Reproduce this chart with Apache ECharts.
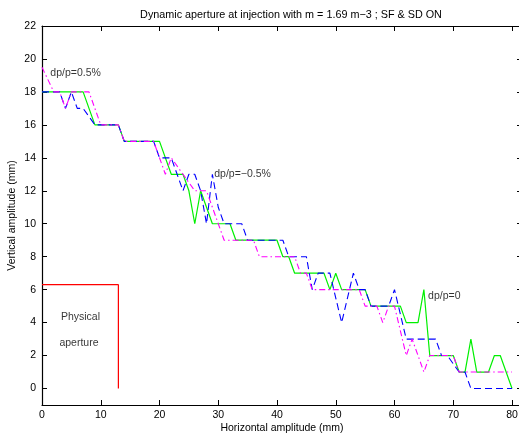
<!DOCTYPE html>
<html>
<head>
<meta charset="utf-8">
<script src="https://cdn.jsdelivr.net/npm/echarts@6/dist/echarts.min.js"></script>
<style>html,body{margin:0;padding:0;background:#fff}#c{width:519px;height:434px}</style>
</head>
<body>
<div id="c"></div>
<script>
// dp/p = 0 (green, solid)
const dpp0 = [[0,18],[7,18],[9,16],[13,16],[14,15],[20,15],[22,13],[24,13],[25,12],[26,10],[27,12],[29,10],[32,10],[33,9],[40,9],[41,8],[42,8],[43,7],[48,7],[49,6],[50,7],[51,6],[55,6],[56,5],[61,5],[62,4],[64,4],[65,6],[66,2],[70,2],[71,1],[72,1],[73,3],[74,1],[76,1],[77,2],[78,2],[80,0]];
// dp/p = -0.5% (blue, dashed)
const dppMinus = [[0,18],[3,18],[4,17],[5,18],[6,17],[7,17],[9,16],[13,16],[14,15],[19,15],[20,14],[22,14],[23,13],[24,12],[25,13],[26,13],[27,12],[28,10],[29,13],[30,11],[31,10],[34,10],[35,9],[41,9],[42,8],[45,8],[46,6],[47,7],[49,7],[51,4],[53,7],[54,6],[55,6],[56,5],[59,5],[60,6],[62,3],[67,3],[68,2],[69,2],[71,1],[72,1],[73,0],[80,0]];
// dp/p = +0.5% (magenta, dash-dot)
const dppPlus = [[0,19.5],[2,18],[3,18],[4,17],[5,18],[8,18],[10,16],[13,16],[14,15],[19,15],[21,13],[22,14],[24,13],[26,12],[28,12],[31,9],[36,9],[37,8],[43,8],[44,7],[45,7],[46,6],[54,6],[55,5],[57,5],[58,4],[59,5],[60,5],[62,2],[63,3],[65,1],[66,2],[70,2],[71,1],[80,1]];
// physical aperture (red)
const apertureX = [0,13,13];
const apertureY = [6.3,6.3,0];
// tick labels
const xTicks = [0,10,20,30,40,50,60,70,80];
const yTicks = [0,2,4,6,8,10,12,14,16,18,20,22];
// annotations
const annoText = ['dp/p=0.5%','dp/p=\u22120.5%','dp/p=0','Physical','aperture'];
const annoX = [1.5,29.4,65.8,3.3,3.05];
const annoY = [19.1,13.0,5.6,4.3,2.7];

const titleText = 'Dynamic aperture at injection with m = 1.69 m\u22123 ; SF & SD ON';
const FONT = 'Liberation Sans, Arial, Helvetica, sans-serif';
const FS = 10.5;

const chart = echarts.init(document.getElementById('c'), null, {renderer:'canvas'});
const axisLine = {show:true, onZero:false, lineStyle:{color:'#000', width:1.2}};
const mkX = (pos, show) => ({
  type:'value', position:pos, min:0, max:81.7, gridIndex:0,
  axisLine: axisLine,
  axisTick:{show:true, inside:true, length:5, customValues:xTicks, lineStyle:{color:'#000', width:1}},
  axisLabel:{show:show, customValues:xTicks, color:'#000', fontSize:FS, fontFamily:FONT, margin:5},
  splitLine:{show:false},
  name: show ? 'Horizontal amplitude (mm)' : '',
  nameLocation:'middle', nameGap:18, nameMoveOverlap:false,
  nameTextStyle:{color:'#000', fontSize:FS, fontFamily:FONT}
});
const mkY = (pos, show) => ({
  type:'value', position:pos, min:-1, max:22, gridIndex:0,
  axisLine: axisLine,
  axisTick:{show:true, inside:true, length:5, customValues:yTicks, lineStyle:{color:'#000', width:1}},
  axisLabel:{show:show, customValues:yTicks, color:'#000', fontSize:FS, fontFamily:FONT, margin:6},
  splitLine:{show:false},
  name: show ? 'Vertical amplitude (mm)' : '',
  nameLocation:'middle', nameGap:24, nameMoveOverlap:false,
  nameTextStyle:{color:'#000', fontSize:FS, fontFamily:FONT}
});

const option = {
  animation:false,
  backgroundColor:'#fff',
  title:{text:titleText, left:286, top:5, textAlign:'center',
    textStyle:{fontSize:10.8, fontWeight:'normal', color:'#000', fontFamily:FONT}},
  grid:{left:42, top:26, width:480, height:379, containLabel:false, outerBoundsMode:'none'},
  xAxis:[mkX('bottom', true), mkX('top', false)],
  yAxis:[mkY('left', true), mkY('right', false)],
  series:[
    {type:'line', data:apertureX.map((x,i)=>[x,apertureY[i]]), showSymbol:false, symbol:'none',
      lineStyle:{color:'#ff0000', width:1.2}},
    {type:'line', data:dpp0, showSymbol:false, symbol:'none',
      lineStyle:{color:'#00f000', width:1.2}},
    {type:'line', data:dppMinus, showSymbol:false, symbol:'none',
      lineStyle:{color:'#0000ff', width:1.1, type:[7,4]}},
    {type:'line', data:dppPlus, showSymbol:false, symbol:'none',
      lineStyle:{color:'#ff00ff', width:1.1, type:[6,3,1.5,3]}},
    {type:'scatter', symbolSize:1, itemStyle:{color:'rgba(0,0,0,0)'}, silent:true,
      data:annoText.map((t,i)=>({name:t, value:[annoX[i],annoY[i]]})),
      label:{show:true, formatter:'{b}', position:[0,0], align:'left', verticalAlign:'middle',
        color:'#000', fontSize:FS, fontFamily:FONT}}
  ]
};
chart.setOption(option);
</script>
</body>
</html>
